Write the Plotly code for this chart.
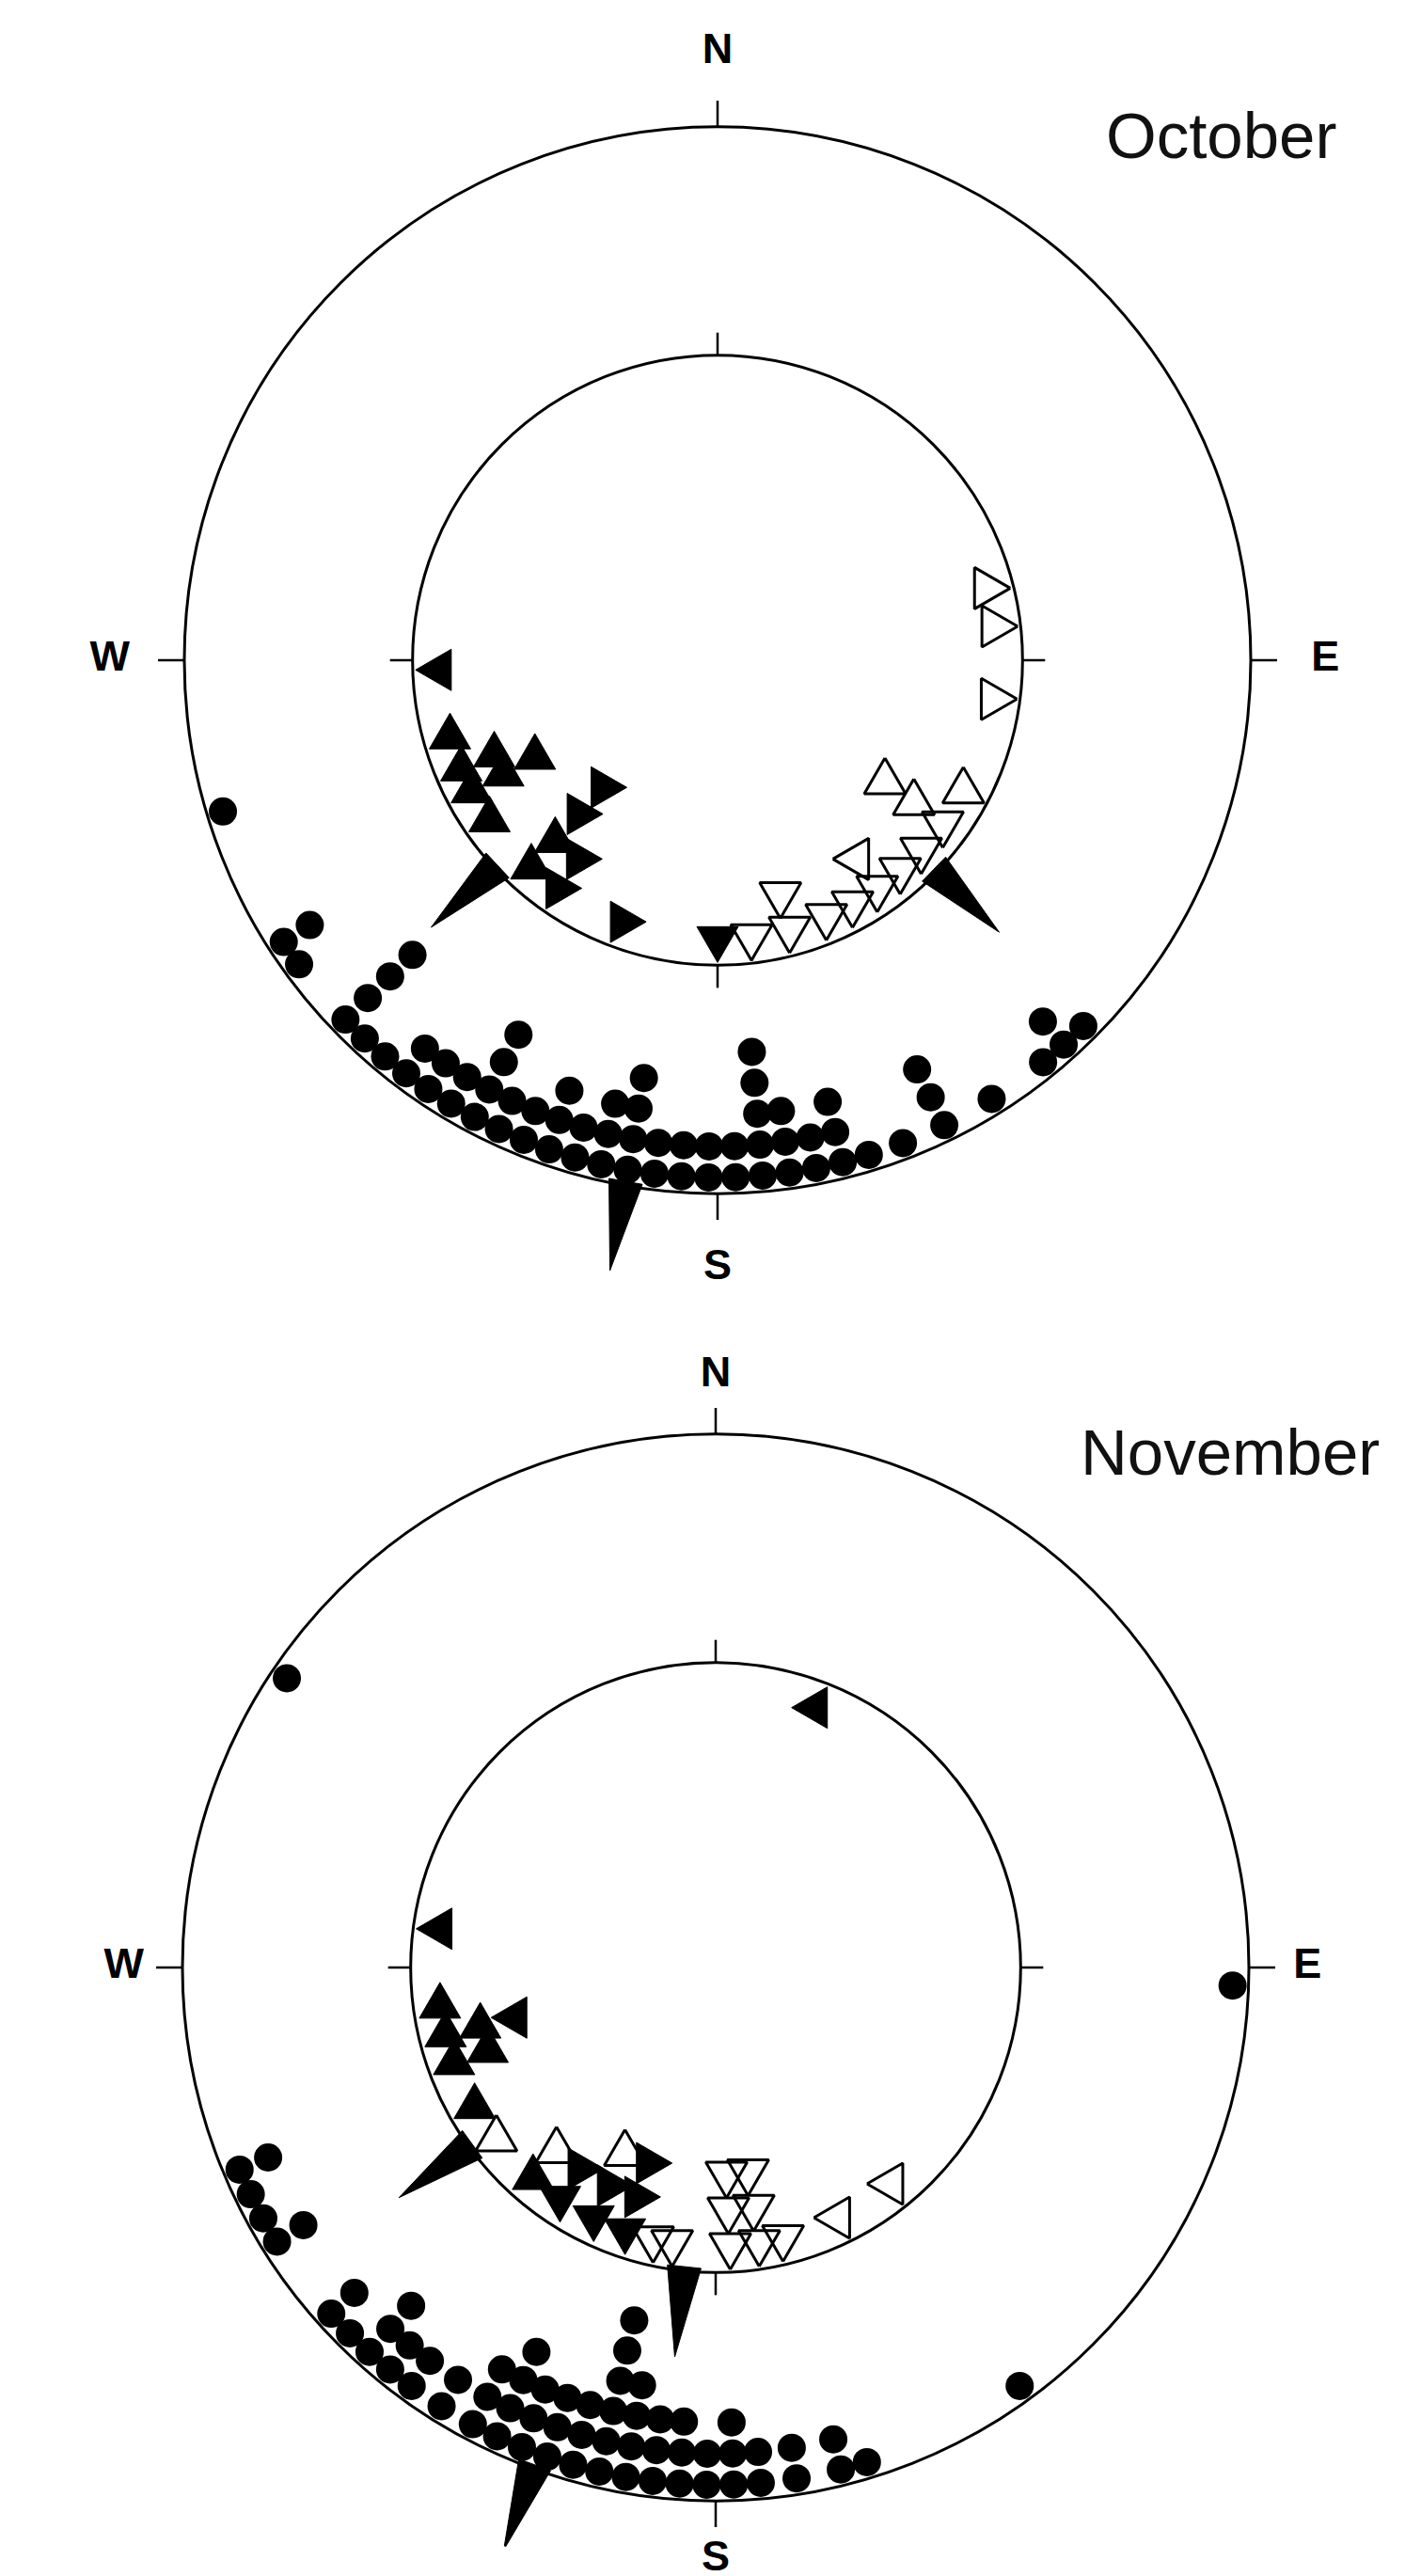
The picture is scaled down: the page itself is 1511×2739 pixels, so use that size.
import math
import plotly.graph_objects as go

# ---------------- data ----------------
months = ["October", "November"]

# outer ring: dots, bearing bins (deg, clockwise from N) and counts per bin
oct_dot_bearing = [253, 237, 234, 226, 223, 220, 217, 214, 211, 208, 205, 202, 199, 196, 193,
                   190, 187, 184, 181, 178, 175, 172, 169, 166, 163, 159, 154, 148, 141, 138, 135]
oct_dot_count = [1, 2, 1, 4, 1, 1, 2, 2, 2, 4, 2, 2, 3, 2, 3,
                 4, 2, 2, 2, 2, 5, 3, 2, 3, 1, 1, 3, 1, 1, 2, 1]

nov_dot_bearing = [304, 92, 247, 244, 241, 238, 228, 225, 222, 219, 216, 212, 208, 205, 202,
                   199, 196, 193, 190, 187, 184, 181, 178, 175, 171, 166, 163, 144]
nov_dot_count = [1, 1, 2, 1, 1, 2, 2, 1, 3, 2, 2, 2, 3, 4, 3,
                 3, 3, 6, 4, 3, 3, 2, 3, 2, 2, 2, 1, 1]

# inner ring: triangles, one entry per observation (filled=1 / open=0, heading of apex in deg)
oct_tri_bearing = [268, 254, 247, 247, 242, 242, 242, 235, 222, 222, 222, 222, 215, 215, 200, 180,
                   173, 165, 165, 157, 151, 145, 145, 139, 133, 126, 126, 126, 118, 98, 83, 75]
oct_tri_filled = [1, 1, 1, 1, 1, 1, 1, 1, 1, 1, 1, 1, 1, 1, 1, 1,
                  0, 0, 0, 0, 0, 0, 0, 0, 0, 0, 0, 0, 0, 0, 0, 0]
oct_tri_heading = [270, 0, 0, 0, 0, 0, 0, 0, 0, 0, 90, 90, 90, 90, 90, 180,
                   180, 180, 180, 180, 180, 180, 270, 180, 180, 180, 0, 0, 0, 90, 90, 90]

nov_tri_bearing = [21, 278, 262, 256, 256, 256, 250, 250, 240, 232, 221, 221, 214, 214, 206, 206,
                   206, 199, 199, 199, 193, 189, 177, 177, 177, 171, 171, 171, 166, 154, 141]
nov_tri_filled = [1, 1, 1, 1, 1, 1, 1, 1, 1, 0, 1, 0, 1, 1, 1, 1,
                  0, 1, 1, 1, 0, 0, 0, 0, 0, 0, 0, 0, 0, 0, 0]
nov_tri_heading = [270, 270, 0, 0, 0, 270, 0, 0, 0, 0, 0, 0, 180, 90, 180, 90,
                   0, 180, 90, 90, 180, 180, 180, 180, 180, 180, 180, 180, 180, 270, 270]

# mean directions (dots -> outer circle, filled/open triangles -> inner circle)
mean_kinds = ["dots", "filled", "open"]
oct_mean_bearing = [190, 227, 134]
nov_mean_bearing = [200, 234, 186]

cardinal_angles = [0, 90, 180, 270]
cardinal_labels = ["N", "E", "S", "W"]

# ---------------- layout constants ----------------
W, H = 1511, 2739
R_PX = 567.0            # pixels per radial unit (outer circle = 1)
INNER = 0.572           # inner circle radius
DOT_SIZE = 30
DOT_R0 = 550 / R_PX
DOT_STEP = 33 / R_PX
TRI_SIDE = 44.0         # px
TRI_HEIGHT = 38.0       # px
TRI_R0 = 296 / R_PX
TRI_STEP = 38 / R_PX
FONT = "Liberation Sans, Arial, Helvetica, sans-serif"

panels = [
    dict(cx=755, cy=694, edge=682, name="polar", lab_r=1.14,
         dots=(oct_dot_bearing, oct_dot_count),
         tris=(oct_tri_bearing, oct_tri_filled, oct_tri_heading),
         means=oct_mean_bearing, month=months[0], mx=1290, my=136),
    dict(cx=753, cy=2084, edge=655, name="polar2", lab_r=1.11,
         dots=(nov_dot_bearing, nov_dot_count),
         tris=(nov_tri_bearing, nov_tri_filled, nov_tri_heading),
         means=nov_mean_bearing, month=months[1], mx=1300, my=1536),
]


def offset_polar(r, theta, ux, uy):
    """Polar position of a point displaced by (ux, uy) screen px (y down) from (r, theta)."""
    t = math.radians(theta)
    X = r * R_PX * math.sin(t) + ux
    Y = -r * R_PX * math.cos(t) + uy
    return math.hypot(X, Y) / R_PX, math.degrees(math.atan2(X, -Y)) % 360


def triangle(r, theta, heading):
    base = [(0.0, -2 * TRI_HEIGHT / 3), (TRI_SIDE / 2, TRI_HEIGHT / 3),
            (-TRI_SIDE / 2, TRI_HEIGHT / 3), (0.0, -2 * TRI_HEIGHT / 3)]
    ph = math.radians(heading)
    rr, tt = [], []
    for x, y in base:
        xr = x * math.cos(ph) - y * math.sin(ph)
        yr = x * math.sin(ph) + y * math.cos(ph)
        a, b = offset_polar(r, theta, xr, yr)
        rr.append(a)
        tt.append(b)
    return rr, tt


fig = go.Figure()
annotations = []

for p in panels:
    sp = p["name"]
    # ticks on both circles
    tr, tt = [], []
    for a in cardinal_angles:
        tr += [1.0, 1.0 + 28 / R_PX, None, INNER, INNER + 24 / R_PX, None]
        tt += [a, a, None, a, a, None]
    fig.add_trace(go.Scatterpolar(r=tr, theta=tt, mode="lines", subplot=sp,
                                  line=dict(color="black", width=2.5),
                                  showlegend=False, hoverinfo="skip"))

    # mean-direction wedges
    for kind, b in zip(mean_kinds, p["means"]):
        base = (1.0 if kind == "dots" else INNER) - 4 / R_PX
        half = math.degrees(math.atan(18 / (base * R_PX)))
        tip = base + 96 / R_PX
        fig.add_trace(go.Scatterpolar(
            r=[base, tip, base, base],
            theta=[b - half, b, b + half, b - half],
            mode="lines", fill="toself", fillcolor="black", subplot=sp,
            line=dict(color="black", width=1), showlegend=False, hoverinfo="skip"))

    # dots stacked inward from outer circle
    bearings, counts = p["dots"]
    dr, dt = [], []
    for b, c in zip(bearings, counts):
        for k in range(c):
            dr.append(DOT_R0 - k * DOT_STEP)
            dt.append(b)
    fig.add_trace(go.Scatterpolar(r=dr, theta=dt, mode="markers", subplot=sp,
                                  marker=dict(size=DOT_SIZE, color="black", line=dict(width=0)),
                                  showlegend=False, hoverinfo="skip"))

    # triangles stacked inward from inner circle (both kinds share the stacking)
    tb, tf, th = p["tris"]
    levels = {}
    polys = {1: ([], []), 0: ([], [])}
    for b, f, h in zip(tb, tf, th):
        k = levels.get(b, 0)
        levels[b] = k + 1
        rr, tt2 = triangle(TRI_R0 - k * TRI_STEP, b, h)
        polys[f][0].extend(rr + [None])
        polys[f][1].extend(tt2 + [None])
    fig.add_trace(go.Scatterpolar(r=polys[1][0], theta=polys[1][1], mode="lines", subplot=sp,
                                  fill="toself", fillcolor="black",
                                  line=dict(color="black", width=1),
                                  showlegend=False, hoverinfo="skip"))
    fig.add_trace(go.Scatterpolar(r=polys[0][0], theta=polys[0][1], mode="lines", subplot=sp,
                                  line=dict(color="black", width=3),
                                  showlegend=False, hoverinfo="skip"))

    # cardinal labels
    fig.add_trace(go.Scatterpolar(r=[p["lab_r"]] * 4, theta=cardinal_angles, mode="text",
                                  text=cardinal_labels, subplot=sp, cliponaxis=False,
                                  textfont=dict(family=FONT, size=45, color="black", weight="bold"),
                                  showlegend=False, hoverinfo="skip"))

    annotations.append(dict(text=p["month"], xref="paper", yref="paper",
                            x=p["mx"] / W, y=1 - p["my"] / H, xanchor="center", yanchor="middle",
                            showarrow=False, font=dict(family=FONT, size=69, color="#111")))


def polar_layout(p):
    e = p["edge"]
    return dict(
        domain=dict(x=[(p["cx"] - e) / W, (p["cx"] + e) / W],
                    y=[max(0.0, 1 - (p["cy"] + e) / H), min(1.0, 1 - (p["cy"] - e) / H)]),
        bgcolor="white",
        radialaxis=dict(range=[0, e / R_PX], tickvals=[INNER, 1.0], showticklabels=False,
                        ticks="", showline=False, showgrid=True, gridcolor="black", gridwidth=2.5),
        angularaxis=dict(rotation=90, direction="clockwise", showgrid=False, showline=False,
                         showticklabels=False, ticks=""),
    )


fig.update_layout(
    width=W, height=H, autosize=False,
    margin=dict(l=0, r=0, t=0, b=0),
    paper_bgcolor="white", plot_bgcolor="white",
    polar=polar_layout(panels[0]),
    polar2=polar_layout(panels[1]),
    annotations=annotations,
    showlegend=False,
)

fig.write_html("out.html")
